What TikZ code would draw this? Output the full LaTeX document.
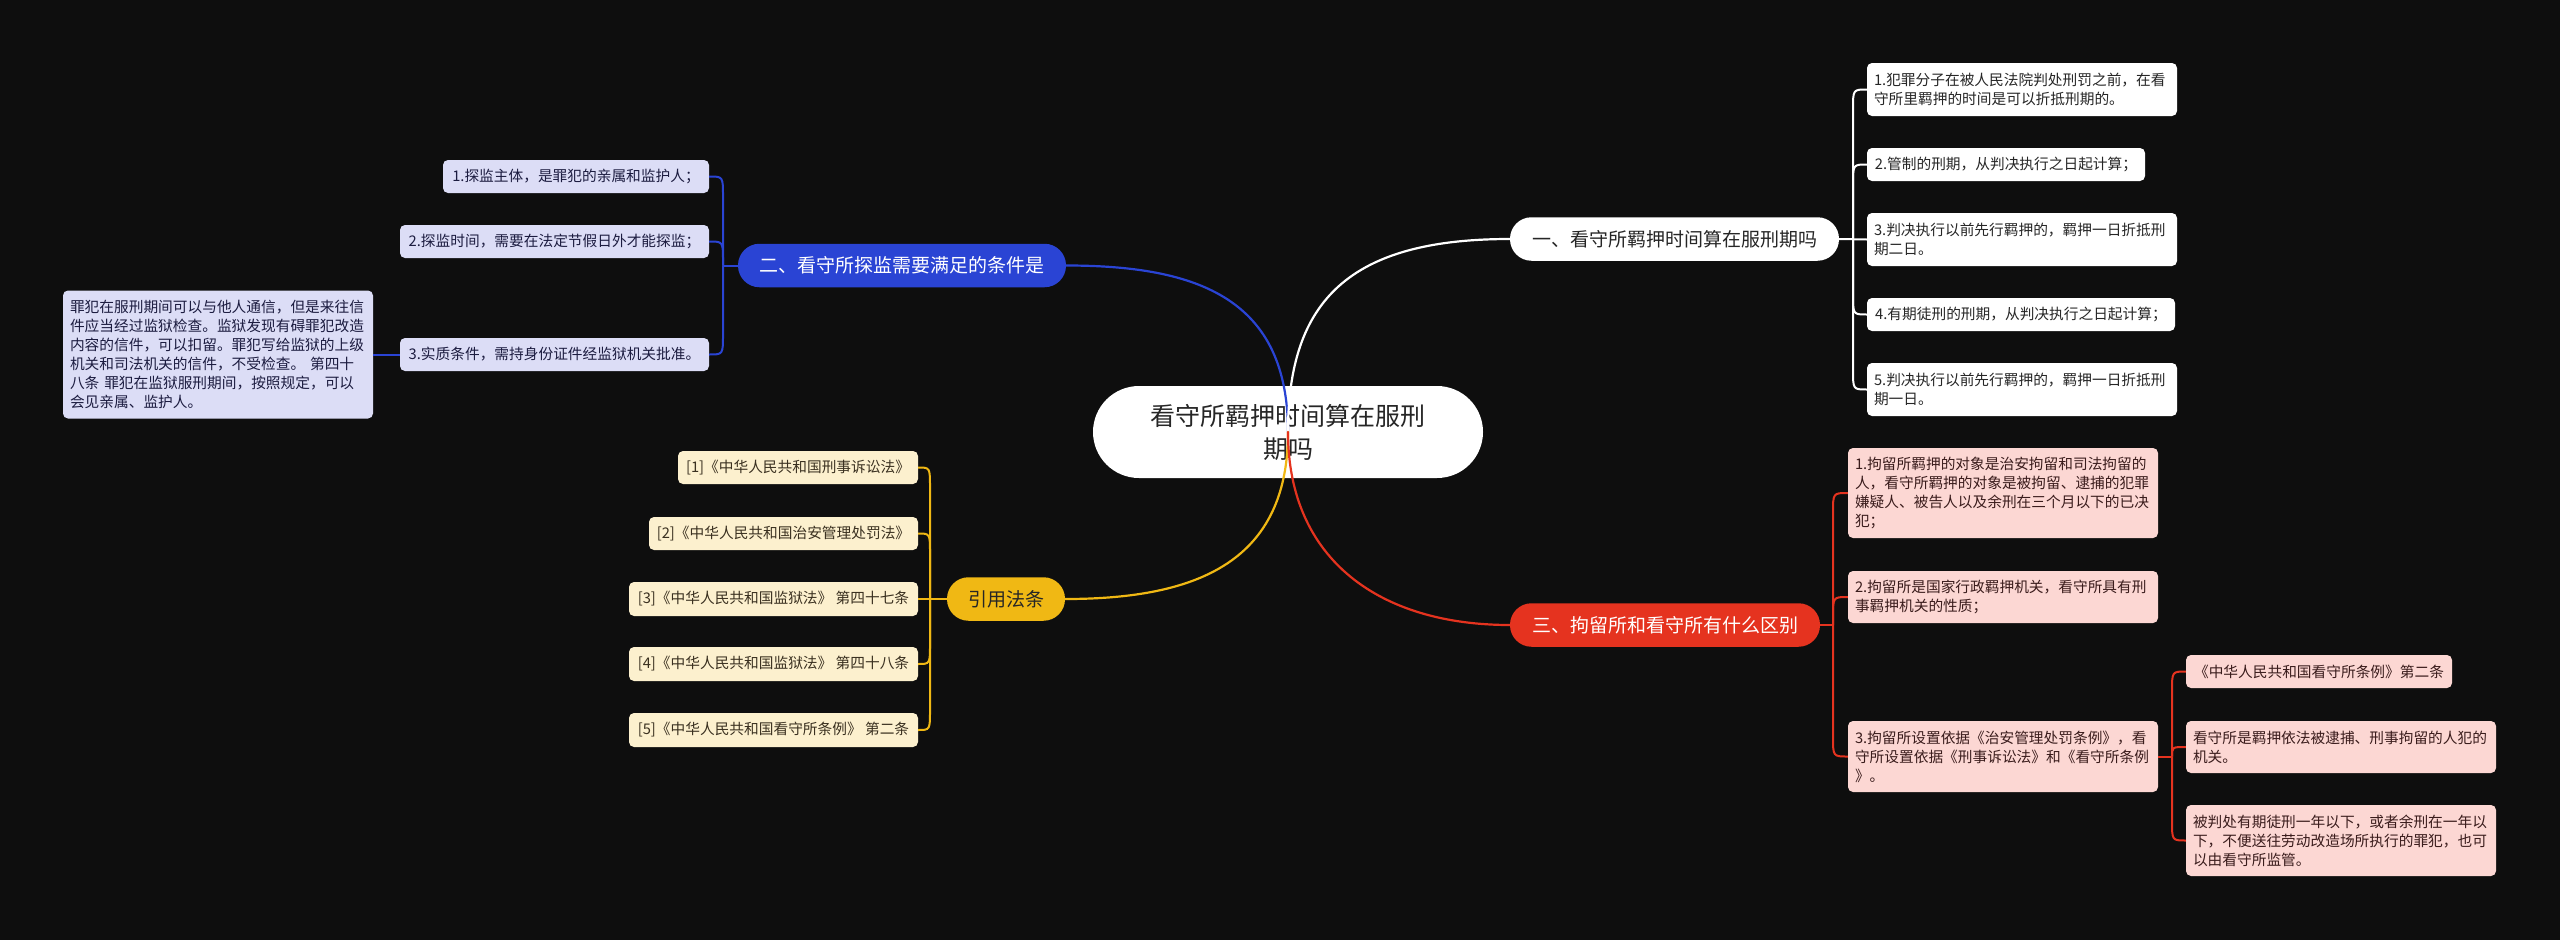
\documentclass[tikz,border=0pt]{standalone}
\usepackage{fontspec}
\setmainfont{Noto Sans CJK SC}
\usetikzlibrary{calc}
\definecolor{bgc}{HTML}{0E0E0E}
\definecolor{mblue}{HTML}{2A44D4}
\definecolor{mred}{HTML}{E5331F}
\definecolor{myel}{HTML}{F0B814}
\definecolor{blueleaf}{HTML}{DCDDF6}
\definecolor{pinkleaf}{HTML}{FCD7D3}
\definecolor{yelleaf}{HTML}{FCF0CE}
\definecolor{txtdark}{HTML}{262626}
\definecolor{bluetxt}{HTML}{1C1C40}
\definecolor{redtxt}{HTML}{3A1C1C}
\definecolor{yeltxt}{HTML}{3A3020}
\newcommand\leaffont{\fontsize{14.7}{19}\selectfont}
\newcommand\brfont{\fontsize{19}{23}\selectfont}
\newcommand\rootfont{\fontsize{25}{33}\selectfont}
\tikzset{
  leafbase/.style={rounded corners=5pt, inner ysep=4pt, font=\leaffont},
  wl/.style={leafbase, fill=white, text=txtdark},
  bl/.style={leafbase, fill=blueleaf, text=bluetxt},
  rl/.style={leafbase, fill=pinkleaf, text=redtxt},
  yl/.style={leafbase, fill=yelleaf, text=yeltxt},
  oneline/.style={minimum height=33pt, inner xsep=4pt, align=center},
  multi/.style={align=left, inner xsep=7pt},
  branch/.style={rounded corners=21.5pt, minimum height=43.5pt, inner xsep=4pt, font=\brfont},
  mainc/.style={line width=2.2pt, line cap=round},
  cW/.style={draw=white, line width=2pt},
  cB/.style={draw=mblue, line width=2pt},
  cR/.style={draw=mred, line width=2pt},
  cY/.style={draw=myel, line width=2pt},
}
\begin{document}
\begin{tikzpicture}[x=1pt,y=-1pt]
\fill[bgc] (0,0) rectangle (2560,940);
\useasboundingbox (0,0) rectangle (2560,940);

% root
\node[fill=white, text=txtdark, rounded corners=46pt, minimum width=390pt, minimum height=92pt,
  align=center, font=\rootfont, inner sep=0pt] (root) at (1288,432) {看守所羁押时间算在服刑\\期吗};

% branches
\node[branch, fill=white, text=txtdark, minimum width=329pt] (n1) at (1674.5,239) {一、看守所羁押时间算在服刑期吗};
\node[branch, fill=mblue, text=white, minimum width=328pt] (n2) at (902,265.5) {二、看守所探监需要满足的条件是};
\node[branch, fill=mred, text=white, minimum width=310pt] (n3) at (1665,625) {三、拘留所和看守所有什么区别};
\node[branch, fill=myel, text=txtdark, minimum width=118pt] (n4) at (1006,599) {引用法条};

% main connectors
\draw[mainc, mblue] (root.center) .. controls (1288,300) and (1200,265.5) .. (n2.east);
\draw[mainc, white] (root.center) .. controls (1288,300) and (1350,239) .. (n1.west);
\draw[mainc, myel] (root.center) .. controls (1288,560) and (1200,599) .. (n4.east);
\draw[mainc, mred] (root.center) .. controls (1288,560) and (1380,625) .. (n3.west);

% white leaves
\node[wl, multi, text width=296pt, minimum height=53pt] (w1) at (2022,89.5) {1.犯罪分子在被人民法院判处刑罚之前，在看\\守所里羁押的时间是可以折抵刑期的。};
\node[wl, oneline, minimum width=278pt] (w2) at (2006,164.5) {2.管制的刑期，从判决执行之日起计算；};
\node[wl, multi, text width=296pt, minimum height=53pt] (w3) at (2022,239.5) {3.判决执行以前先行羁押的，羁押一日折抵刑\\期二日。};
\node[wl, oneline, minimum width=308pt] (w4) at (2021,314.5) {4.有期徒刑的刑期，从判决执行之日起计算；};
\node[wl, multi, text width=296pt, minimum height=53pt] (w5) at (2022,389.5) {5.判决执行以前先行羁押的，羁押一日折抵刑\\期一日。};

% red leaves
\node[rl, multi, text width=296pt, minimum height=90pt] (r1) at (2003,493) {1.拘留所羁押的对象是治安拘留和司法拘留的\\人，看守所羁押的对象是被拘留、逮捕的犯罪\\嫌疑人、被告人以及余刑在三个月以下的已决\\犯；};
\node[rl, multi, text width=296pt, minimum height=52pt] (r2) at (2003,597) {2.拘留所是国家行政羁押机关，看守所具有刑\\事羁押机关的性质；};
\node[rl, multi, text width=296pt, minimum height=71pt] (r3) at (2003,756.5) {3.拘留所设置依据《治安管理处罚条例》，看\\守所设置依据《刑事诉讼法》和《看守所条例\\》。};

% pink sub-leaves
\node[rl, oneline, minimum width=266pt] (p1) at (2319,671.5) {《中华人民共和国看守所条例》第二条};
\node[rl, multi, text width=296pt, minimum height=52pt] (p2) at (2341,747) {看守所是羁押依法被逮捕、刑事拘留的人犯的\\机关。};
\node[rl, multi, text width=296pt, minimum height=71pt] (p3) at (2341,840.5) {被判处有期徒刑一年以下，或者余刑在一年以\\下，不便送往劳动改造场所执行的罪犯，也可\\以由看守所监管。};

% blue leaves
\node[bl, oneline, minimum width=266pt] (b1) at (576,176.5) {1.探监主体，是罪犯的亲属和监护人；};
\node[bl, oneline, minimum width=309pt] (b2) at (554.5,241.5) {2.探监时间，需要在法定节假日外才能探监；};
\node[bl, oneline, minimum width=309pt] (b3) at (554.5,354.5) {3.实质条件，需持身份证件经监狱机关批准。};
\node[bl, multi, text width=296pt, minimum height=128pt] (b3c) at (218,354.5) {罪犯在服刑期间可以与他人通信，但是来往信\\件应当经过监狱检查。监狱发现有碍罪犯改造\\内容的信件，可以扣留。罪犯写给监狱的上级\\机关和司法机关的信件，不受检查。 第四十\\八条 罪犯在监狱服刑期间，按照规定，可以\\会见亲属、监护人。};

% yellow leaves
\node[yl, oneline, minimum width=240pt] (y1) at (798,467.5) {[1]《中华人民共和国刑事诉讼法》};
\node[yl, oneline, minimum width=269pt] (y2) at (783.5,533.5) {[2]《中华人民共和国治安管理处罚法》};
\node[yl, oneline, minimum width=289pt, minimum height=34pt] (y3) at (773.5,599) {[3]《中华人民共和国监狱法》 第四十七条};
\node[yl, oneline, minimum width=289pt, minimum height=34pt] (y4) at (773.5,664) {[4]《中华人民共和国监狱法》 第四十八条};
\node[yl, oneline, minimum width=289pt, minimum height=34pt] (y5) at (773.5,730) {[5]《中华人民共和国看守所条例》 第二条};

% white connectors
\coordinate (sW) at (1853,239);
\draw[cW] (n1.east) -- (w3.west);
\draw[cW] (sW) -- ($(sW|-w1.west)+(0,20)$) .. controls (sW|-w1.west) .. (w1.west);
\draw[cW] (sW) -- ($(sW|-w2.west)+(0,20)$) .. controls (sW|-w2.west) .. (w2.west);
\draw[cW] (sW) -- ($(sW|-w4.west)+(0,-20)$) .. controls (sW|-w4.west) .. (w4.west);
\draw[cW] (sW) -- ($(sW|-w5.west)+(0,-20)$) .. controls (sW|-w5.west) .. (w5.west);

% red connectors
\coordinate (sR) at (1833,625);
\draw[cR] (n3.east) -- (sR);
\draw[cR] (sR) -- ($(sR|-r1.west)+(0,20)$) .. controls (sR|-r1.west) .. (r1.west);
\draw[cR] (sR) -- ($(sR|-r2.west)+(0,20)$) .. controls (sR|-r2.west) .. (r2.west);
\draw[cR] (sR) -- ($(sR|-r3.west)+(0,-20)$) .. controls (sR|-r3.west) .. (r3.west);

% pink connectors
\coordinate (sP) at (2172,756.5);
\draw[cR] (r3.east) -- (sP);
\draw[cR] (sP) -- ($(sP|-p1.west)+(0,20)$) .. controls (sP|-p1.west) .. (p1.west);
\draw[cR] (sP) .. controls (sP|-p2.west) .. (p2.west);
\draw[cR] (sP) -- ($(sP|-p3.west)+(0,-20)$) .. controls (sP|-p3.west) .. (p3.west);

% blue connectors
\coordinate (sB) at (723,265.5);
\draw[cB] (n2.west) -- (sB);
\draw[cB] (sB) -- ($(sB|-b1.east)+(0,20)$) .. controls (sB|-b1.east) .. (b1.east);
\draw[cB] (sB) -- ($(sB|-b2.east)+(0,20)$) .. controls (sB|-b2.east) .. (b2.east);
\draw[cB] (sB) -- ($(sB|-b3.east)+(0,-20)$) .. controls (sB|-b3.east) .. (b3.east);
\draw[cB] (b3.west) -- (b3c.east);

% yellow connectors
\coordinate (sY) at (930,599);
\draw[cY] (n4.west) -- (y3.east);
\draw[cY] (sY) -- ($(sY|-y1.east)+(0,20)$) .. controls (sY|-y1.east) .. (y1.east);
\draw[cY] (sY) -- ($(sY|-y2.east)+(0,20)$) .. controls (sY|-y2.east) .. (y2.east);
\draw[cY] (sY) -- ($(sY|-y4.east)+(0,-20)$) .. controls (sY|-y4.east) .. (y4.east);
\draw[cY] (sY) -- ($(sY|-y5.east)+(0,-20)$) .. controls (sY|-y5.east) .. (y5.east);
\end{tikzpicture}
\end{document}
